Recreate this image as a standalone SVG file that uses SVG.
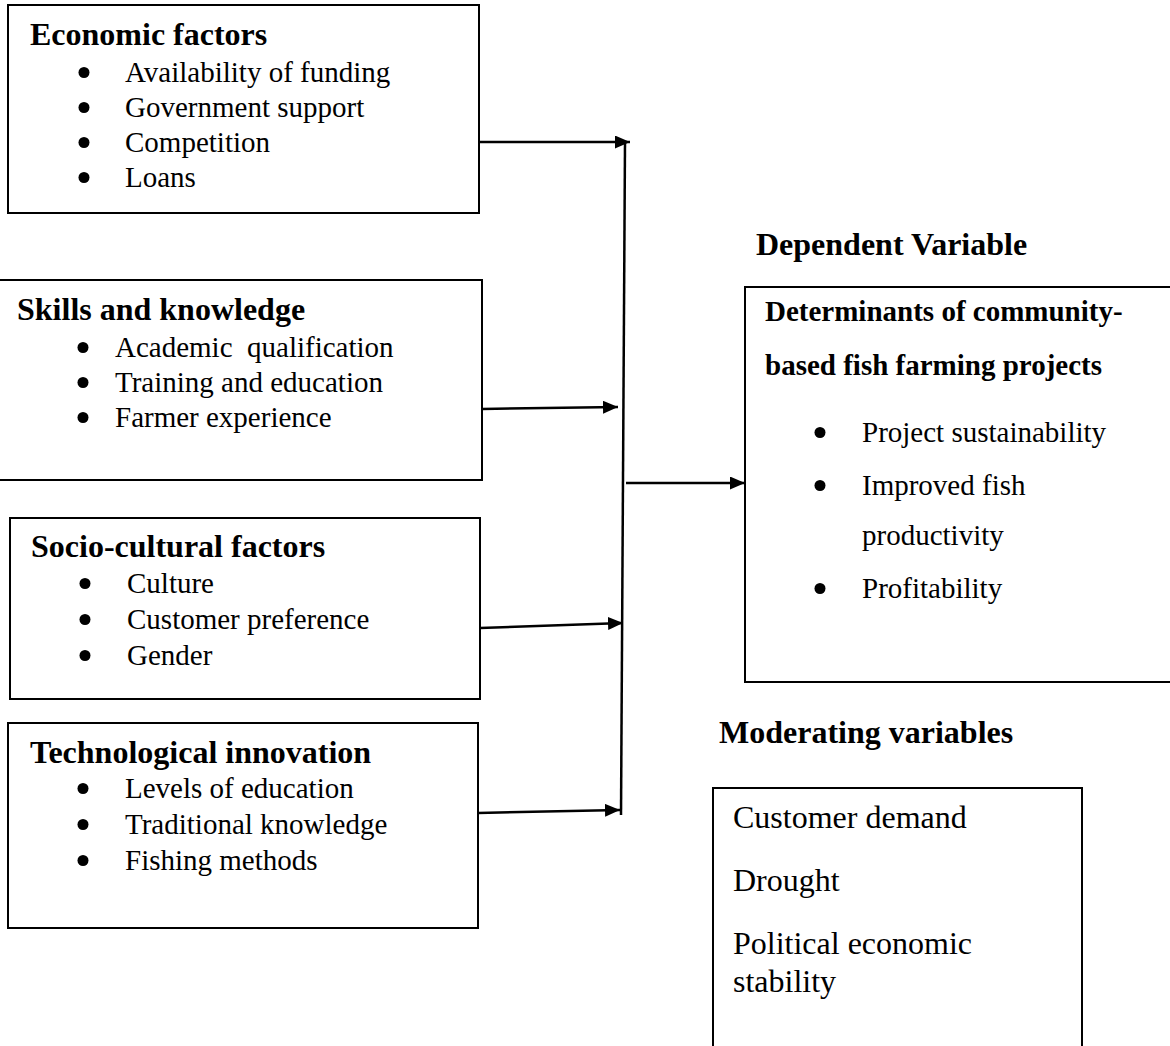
<svg xmlns="http://www.w3.org/2000/svg" width="1170" height="1046" viewBox="0 0 1170 1046">
<style>
.box{fill:#fff;stroke:#000;stroke-width:2}
.h{font-family:"Liberation Serif","Times New Roman",serif;font-weight:bold;font-size:32px;fill:#000}
.dh{font-family:"Liberation Serif","Times New Roman",serif;font-weight:bold;font-size:29px;fill:#000}
.i{font-family:"Liberation Serif","Times New Roman",serif;font-weight:normal;font-size:29px;fill:#000}
.m{font-family:"Liberation Serif","Times New Roman",serif;font-weight:normal;font-size:32px;fill:#000}
.b{fill:#000}
.c{fill:none;stroke:#000;stroke-width:2.5}
</style>
<defs>
<marker id="ah" viewBox="0 0 15 13" refX="15" refY="6.5" markerWidth="15" markerHeight="13" markerUnits="userSpaceOnUse" orient="auto">
<path d="M0,0 L15,6.5 L0,13 z" fill="#000"/>
</marker>
</defs>
<rect width="1170" height="1046" fill="#fff"/>

<g id="economic-factors">
<rect class="box" x="8" y="5" width="471" height="208"/>
<text class="h" x="30" y="45">Economic factors</text>
<circle class="b" cx="84" cy="72.5" r="5.5"/><text class="i" x="125" y="82">Availability of funding</text>
<circle class="b" cx="84" cy="107.5" r="5.5"/><text class="i" x="125" y="117">Government support</text>
<circle class="b" cx="84" cy="142.5" r="5.5"/><text class="i" x="125" y="152">Competition</text>
<circle class="b" cx="84" cy="177.5" r="5.5"/><text class="i" x="125" y="187">Loans</text>
</g>

<g id="skills-knowledge">
<rect class="box" x="-2" y="280" width="484" height="200"/>
<text class="h" x="17" y="320">Skills and knowledge</text>
<circle class="b" cx="83" cy="347.5" r="5.5"/><text class="i" x="115" y="357" xml:space="preserve">Academic  qualification</text>
<circle class="b" cx="83" cy="382.5" r="5.5"/><text class="i" x="115" y="392">Training and education</text>
<circle class="b" cx="83" cy="417.5" r="5.5"/><text class="i" x="115" y="427">Farmer experience</text>
</g>

<g id="socio-cultural">
<rect class="box" x="10" y="518" width="470" height="181"/>
<text class="h" x="31" y="557">Socio-cultural factors</text>
<circle class="b" cx="85" cy="583.5" r="5.5"/><text class="i" x="127" y="593">Culture</text>
<circle class="b" cx="85" cy="619.5" r="5.5"/><text class="i" x="127" y="629">Customer preference</text>
<circle class="b" cx="85" cy="655.5" r="5.5"/><text class="i" x="127" y="665">Gender</text>
</g>

<g id="technological-innovation">
<rect class="box" x="8" y="723" width="470" height="205"/>
<text class="h" x="30" y="763">Technological innovation</text>
<circle class="b" cx="83" cy="788.5" r="5.5"/><text class="i" x="125" y="798">Levels of education</text>
<circle class="b" cx="83" cy="824.5" r="5.5"/><text class="i" x="125" y="834">Traditional knowledge</text>
<circle class="b" cx="83" cy="860.5" r="5.5"/><text class="i" x="125" y="870">Fishing methods</text>
</g>

<g id="dependent-variable">
<text class="h" x="756" y="255">Dependent Variable</text>
<rect class="box" x="745" y="287" width="430" height="395"/>
<text class="dh" x="765" y="321">Determinants of community-</text>
<text class="dh" x="765" y="375">based fish farming projects</text>
<circle class="b" cx="820" cy="432.5" r="5.5"/><text class="i" x="862" y="442">Project sustainability</text>
<circle class="b" cx="820" cy="485.5" r="5.5"/><text class="i" x="862" y="495">Improved fish</text>
<text class="i" x="862" y="545">productivity</text>
<circle class="b" cx="820" cy="588.5" r="5.5"/><text class="i" x="862" y="598">Profitability</text>
</g>

<g id="moderating-variables">
<text class="h" x="719" y="743">Moderating variables</text>
<rect class="box" x="713" y="788" width="369" height="280"/>
<text class="m" x="733" y="828">Customer demand</text>
<text class="m" x="733" y="891">Drought</text>
<text class="m" x="733" y="954">Political economic</text>
<text class="m" x="733" y="992">stability</text>
</g>

<g id="connectors">
<path class="c" d="M625,142 L621,815"/>
<path class="c" d="M479,142 L630,142" marker-end="url(#ah)"/>
<path class="c" d="M482,409 L618,407" marker-end="url(#ah)"/>
<path class="c" d="M480,628 L623,623" marker-end="url(#ah)"/>
<path class="c" d="M478,813 L620,810" marker-end="url(#ah)"/>
<path class="c" d="M626,483 L745,483" marker-end="url(#ah)"/>
</g>
</svg>
